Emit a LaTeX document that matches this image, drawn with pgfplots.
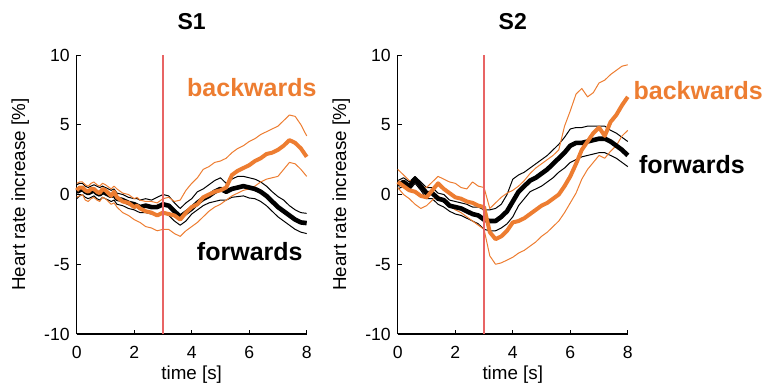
\documentclass[border=0pt]{standalone}
\usepackage{fontspec}
\setmainfont{Liberation Sans}
\usepackage{pgfplots}
\usepackage{pgfplotstable}
\pgfplotsset{compat=1.18}
\definecolor{myorange}{RGB}{237,125,49}
\definecolor{myred}{RGB}{232,100,100}

\pgfplotstableread{
x bm bu bl om ou ol
0.0 0.2 0.7 -0.3 0.3 0.8 -0.2
0.1 0.3 0.8 -0.1 0.5 0.9 -0.1
0.2 0.4 0.8 0.0 0.5 0.9 0.0
0.3 0.2 0.6 -0.2 0.3 0.7 -0.4
0.4 0.1 0.5 -0.3 0.2 0.6 -0.5
0.5 0.2 0.6 -0.2 0.4 0.8 -0.3
0.6 0.3 0.7 -0.1 0.4 0.9 -0.2
0.7 0.1 0.6 -0.3 0.2 0.7 -0.4
0.8 0.0 0.5 -0.4 0.1 0.6 -0.5
0.9 0.2 0.6 -0.2 0.4 0.8 -0.2
1.0 0.1 0.5 -0.3 0.3 0.7 -0.3
1.2 -0.1 0.3 -0.5 -0.1 0.4 -0.7
1.3 0.0 0.4 -0.4 0.2 0.6 -0.6
1.4 -0.3 0.1 -0.7 -0.2 0.4 -0.9
1.6 -0.4 0.0 -0.8 -0.5 0.1 -1.3
1.8 -0.6 -0.2 -1.0 -0.6 0.0 -1.5
2.0 -0.7 -0.3 -1.1 -0.9 -0.3 -1.8
2.1 -0.8 -0.3 -1.2 -0.8 -0.2 -1.9
2.2 -0.9 -0.4 -1.3 -1.0 -0.4 -2.0
2.4 -0.8 -0.3 -1.3 -1.2 -0.5 -2.3
2.6 -0.9 -0.4 -1.4 -1.3 -0.5 -2.4
2.8 -0.9 -0.2 -1.5 -1.5 -0.6 -2.6
3.0 -0.7 0.0 -1.3 -1.3 -0.3 -2.5
3.2 -0.8 -0.1 -1.5 -1.4 -0.2 -2.5
3.4 -1.2 -0.6 -1.9 -1.5 -0.5 -2.8
3.6 -1.6 -1.0 -2.2 -1.8 -0.4 -3.0
3.8 -1.3 -0.6 -1.9 -1.3 0.3 -2.6
4.0 -1.0 -0.3 -1.4 -0.9 0.8 -2.3
4.2 -0.6 0.2 -1.1 -0.7 1.2 -2.0
4.4 -0.3 0.4 -0.8 -0.2 1.8 -1.6
4.6 -0.1 0.7 -0.6 0.0 2.0 -1.2
4.8 0.2 1.0 -0.5 0.2 2.3 -0.9
5.0 0.4 1.2 -0.4 0.3 2.4 -0.7
5.2 0.2 0.8 -0.4 0.5 2.6 -0.4
5.4 0.4 1.1 -0.2 1.4 3.0 -0.1
5.6 0.5 1.3 -0.15 1.7 3.3 0.1
5.8 0.6 1.3 -0.1 1.9 3.5 0.3
6.0 0.5 1.2 -0.25 2.1 3.8 0.4
6.2 0.4 1.1 -0.3 2.4 4.0 0.6
6.4 0.2 0.9 -0.5 2.6 4.3 0.9
6.6 -0.1 0.6 -0.8 2.9 4.5 1.1
6.8 -0.5 0.2 -1.2 3.0 4.7 1.2
7.0 -0.9 -0.15 -1.6 3.2 4.9 1.3
7.2 -1.2 -0.4 -1.9 3.5 5.3 1.8
7.4 -1.5 -0.8 -2.2 3.9 5.7 2.3
7.6 -1.8 -1.1 -2.5 3.7 5.6 2.2
7.8 -2.0 -1.3 -2.7 3.3 5.0 1.8
8.0 -2.05 -1.35 -2.8 2.7 4.2 1.3
}\tabA

\pgfplotstableread{
x bm bu bl om ou ol
0.0 0.7 1.0 0.4 0.9 1.8 0.5
0.2 0.9 1.2 0.6 0.6 1.4 0.0
0.4 0.6 0.9 0.3 0.3 1.0 -0.3
0.6 1.1 1.3 0.8 0.2 0.9 -0.7
0.8 0.6 0.9 0.3 -0.1 0.6 -1.0
1.0 0.1 0.5 -0.3 -0.2 0.5 -0.8
1.2 0.1 0.5 -0.3 0.3 0.9 -0.4
1.4 -0.3 0.1 -0.7 0.8 1.3 -0.1
1.6 -0.4 0.0 -0.9 0.4 1.1 -0.4
1.8 -0.8 -0.4 -1.2 0.1 0.9 -0.8
2.0 -0.9 -0.5 -1.4 -0.2 0.8 -1.1
2.2 -1.0 -0.6 -1.5 -0.3 0.5 -1.3
2.4 -1.2 -0.7 -1.7 -0.5 0.4 -1.6
2.6 -1.4 -0.9 -1.9 -0.6 0.9 -1.9
2.8 -1.5 -0.9 -2.1 -0.8 0.6 -2.2
3.0 -1.8 -1.1 -2.5 -0.9 0.5 -2.5
3.2 -1.9 -1.1 -2.6 -2.7 -1.0 -4.4
3.4 -1.9 -1.0 -2.6 -3.2 -0.6 -5.0
3.6 -1.6 -0.7 -2.4 -3.0 -0.2 -4.9
3.8 -1.2 0.0 -2.1 -2.6 0.1 -4.7
4.0 -0.5 1.1 -1.6 -2.0 0.3 -4.5
4.2 0.2 1.4 -0.8 -1.9 0.6 -4.2
4.4 0.6 1.6 -0.3 -1.7 1.0 -4.0
4.6 1.0 1.9 0.2 -1.4 1.5 -3.7
4.8 1.2 2.2 0.4 -1.1 1.9 -3.4
5.0 1.5 2.5 0.6 -0.8 2.2 -3.0
5.2 1.8 2.8 0.9 -0.6 2.5 -2.7
5.4 2.2 3.2 1.2 -0.3 2.8 -2.3
5.6 2.6 3.6 1.6 0.0 3.2 -1.9
5.8 3.0 4.1 1.9 0.6 4.9 -1.3
6.0 3.5 4.7 2.3 1.3 6.0 -0.6
6.2 3.7 4.8 2.5 2.2 7.2 0.1
6.4 3.7 4.8 2.7 3.2 7.6 1.1
6.6 3.8 4.9 2.8 3.8 7.0 1.8
6.8 3.9 4.9 2.9 4.4 7.3 2.3
7.0 4.0 4.9 3.0 4.8 8.0 2.8
7.2 4.0 4.9 3.0 4.2 8.2 2.6
7.4 3.8 4.6 2.8 5.2 8.6 3.1
7.6 3.5 4.4 2.6 5.7 8.9 3.5
7.8 3.2 4.1 2.3 6.4 9.2 4.2
8.0 2.8 3.8 2.0 7.0 9.3 4.6
}\tabB

\pgfplotsset{myaxis/.style={
  scale only axis, width=115pt, height=139.5pt,
  xmin=0, xmax=8, ymin=-10, ymax=10,
  xtick={0,2,4,6,8}, ytick={-10,-5,0,5,10},
  axis x line*=bottom, axis y line*=left,
  tick align=inside, major tick length=2pt,
  axis line style={line width=0.6pt},
  every tick/.style={black, line width=0.5pt},
  clip=false,
  /pgf/number format/assume math mode=true,
  tick label style={font=\fontsize{8.8}{10}\selectfont},
  xticklabel style={yshift=-2.5pt},
  label style={font=\fontsize{9.4}{11}\selectfont},
  xlabel={time [s]}, ylabel={Heart rate increase [\%]},
  xlabel style={at={(axis description cs:0.5,-0.112)}, anchor=north, inner sep=0pt},
  ylabel style={at={(axis description cs:-0.177,0.5)}, anchor=south},
  every axis title shift=0pt,
  title style={at={(axis description cs:0.5,1.093)}, anchor=base, inner sep=0pt, font=\bfseries\fontsize{11.5}{13}\selectfont},
}}

\begin{document}
\begin{tikzpicture}
\path[use as bounding box] (-38.35pt,-24pt) rectangle (346.65pt,167pt);
\begin{axis}[myaxis, title={S1}, at={(0pt,0pt)}, anchor=south west]
\addplot[black, line width=0.5pt, line join=round] table[x=x,y=bu]{\tabA};
\addplot[black, line width=0.5pt, line join=round] table[x=x,y=bl]{\tabA};
\addplot[myorange, line width=0.5pt, line join=round] table[x=x,y=ou]{\tabA};
\addplot[myorange, line width=0.5pt, line join=round] table[x=x,y=ol]{\tabA};
\addplot[black, line width=2.3pt, line join=round] table[x=x,y=bm]{\tabA};
\addplot[myorange, line width=2pt, line join=round] table[x=x,y=om]{\tabA};
\addplot[myred, line width=0.7pt] coordinates {(3,-10) (3,10)};
\node[anchor=base west, text=myorange, font=\bfseries\fontsize{12.5}{14}\selectfont, inner sep=0pt] at (axis cs:3.83,6.99) {backwards};
\node[anchor=base west, text=black, font=\bfseries\fontsize{12.5}{14}\selectfont, inner sep=0pt] at (axis cs:4.17,-4.7) {forwards};
\end{axis}
\begin{axis}[myaxis, title={S2}, at={(160.55pt,0pt)}, anchor=south west]
\addplot[black, line width=0.5pt, line join=round] table[x=x,y=bu]{\tabB};
\addplot[black, line width=0.5pt, line join=round] table[x=x,y=bl]{\tabB};
\addplot[myorange, line width=0.5pt, line join=round] table[x=x,y=ou]{\tabB};
\addplot[myorange, line width=0.5pt, line join=round] table[x=x,y=ol]{\tabB};
\addplot[black, line width=2.3pt, line join=round] table[x=x,y=bm]{\tabB};
\addplot[myorange, line width=2pt, line join=round] table[x=x,y=om]{\tabB};
\addplot[myred, line width=0.7pt] coordinates {(3,-10) (3,10)};
\node[anchor=base west, text=myorange, font=\bfseries\fontsize{12.5}{14}\selectfont, inner sep=0pt] at (axis cs:8.19,6.82) {backwards};
\node[anchor=base west, text=black, font=\bfseries\fontsize{12.5}{14}\selectfont, inner sep=0pt] at (axis cs:8.38,1.54) {forwards};
\end{axis}
\end{tikzpicture}
\end{document}
